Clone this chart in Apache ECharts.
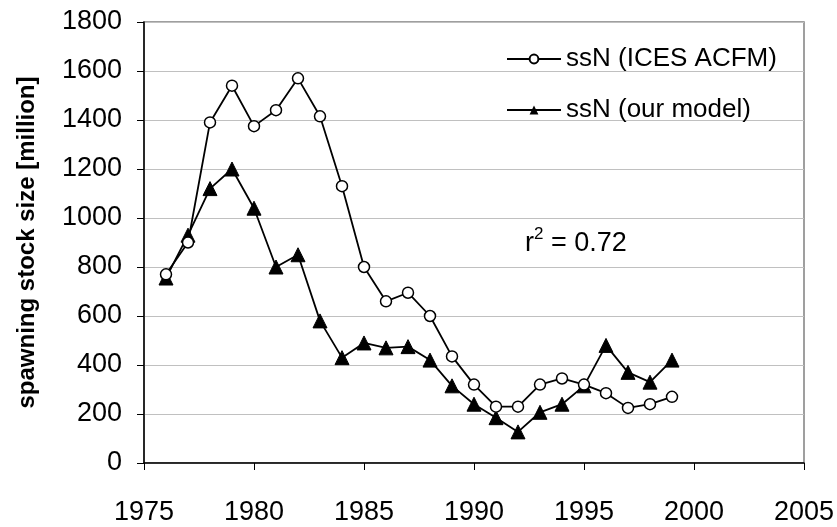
<!DOCTYPE html>
<html>
<head>
<meta charset="utf-8">
<script src="https://cdn.jsdelivr.net/npm/echarts@6/dist/echarts.min.js"></script>
<style>
html, body { margin: 0; padding: 0; background: #fff; }
#chart { width: 837px; height: 527px; }
</style>
</head>
<body>
<div id="chart"></div>
<script>
// stock size per year
var years = [1976, 1977, 1978, 1979, 1980, 1981, 1982, 1983, 1984, 1985, 1986, 1987,
             1988, 1989, 1990, 1991, 1992, 1993, 1994, 1995, 1996, 1997, 1998, 1999];
var ssnIces = [770, 900, 1390, 1540, 1375, 1440, 1570, 1415, 1130, 800, 660, 695,
               600, 435, 320, 230, 230, 320, 345, 320, 285, 225, 240, 270];
var ssnModel = [755, 930, 1120, 1200, 1040, 800, 850, 580, 430, 490, 470, 475,
                420, 315, 240, 185, 127, 207, 240, 315, 480, 370, 330, 420];
var seriesNames = ['ssN (ICES ACFM)', 'ssN (our model)'];

function pairs(vals) {
    return years.map(function (y, i) { return [y, vals[i]]; });
}
function plain(v) { return String(v); }

var font = 'Liberation Sans, Arial, sans-serif';
var myChart = echarts.init(document.getElementById('chart'));
var option = {
    animation: false,
    textStyle: { fontFamily: font, color: '#000' },
    grid: {
        left: 144, right: 33, top: 22, bottom: 64,
        outerBoundsMode: 'none',
        show: true, borderColor: '#808080', borderWidth: 1.5
    },
    legend: {
        orient: 'vertical',
        left: 501,
        top: 41,
        itemWidth: 54,
        itemHeight: 11,
        itemGap: 25,
        textStyle: { fontFamily: font, fontSize: 26, color: '#000' },
        data: seriesNames
    },
    xAxis: {
        type: 'value',
        min: 1975, max: 2005, interval: 5,
        splitLine: { show: false },
        axisLine: { lineStyle: { color: '#000', width: 1.5 } },
        axisTick: { length: 7, lineStyle: { color: '#000' } },
        axisLabel: { fontSize: 27, color: '#000', margin: 36, fontFamily: font, formatter: plain }
    },
    yAxis: {
        type: 'value',
        min: 0, max: 1800, interval: 200,
        name: 'spawning stock size [million]',
        nameLocation: 'middle',
        nameGap: 105,
        nameTextStyle: { fontSize: 24, fontWeight: 'bold', color: '#000', fontFamily: font },
        splitLine: { lineStyle: { color: '#c0c0c0', width: 1 } },
        axisLine: { show: true, lineStyle: { color: '#000', width: 1.5 } },
        axisTick: { show: true, length: 7, lineStyle: { color: '#000' } },
        axisLabel: { fontSize: 27, color: '#000', margin: 22, fontFamily: font, formatter: plain }
    },
    graphic: [{
        type: 'text',
        left: 525,
        top: 226,
        style: {
            text: '{b|r}{s|2}{b| = 0.72}',
            rich: {
                b: { fontSize: 27, fontFamily: font, fill: '#000', verticalAlign: 'bottom' },
                s: { fontSize: 17, fontFamily: font, fill: '#000', verticalAlign: 'top', padding: [0, 0, 14, 0] }
            }
        }
    }],
    series: [{
        name: seriesNames[0],
        type: 'line',
        data: pairs(ssnIces),
        symbol: 'circle',
        symbolSize: 11,
        showAllSymbol: true,
        lineStyle: { color: '#000', width: 1.8 },
        itemStyle: { color: '#fff', borderColor: '#000', borderWidth: 1.5 },
        z: 3
    }, {
        name: seriesNames[1],
        type: 'line',
        data: pairs(ssnModel),
        symbol: 'triangle',
        symbolSize: 14,
        showAllSymbol: true,
        lineStyle: { color: '#000', width: 1.8 },
        itemStyle: { color: '#000', borderColor: '#000' },
        z: 2
    }]
};
myChart.setOption(option);
</script>
</body>
</html>
